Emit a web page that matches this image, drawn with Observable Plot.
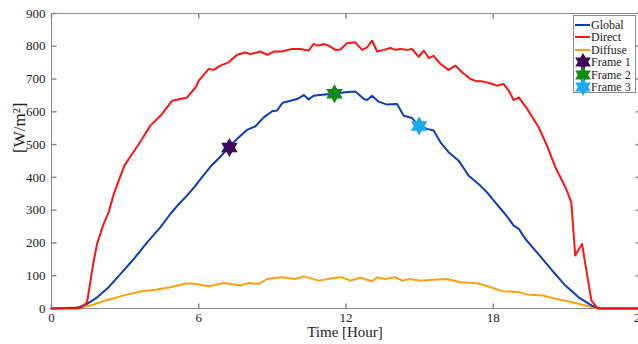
<!DOCTYPE html>
<html><head><meta charset="utf-8">
<script src="https://cdn.jsdelivr.net/npm/d3@7"></script>
<script src="https://cdn.jsdelivr.net/npm/@observablehq/plot@0.6"></script>
<style>
body{margin:0;background:#fff;}
#wrap{position:relative;width:638px;height:344px;overflow:hidden;background:#fff;}
#legend{position:absolute;left:573px;top:15px;width:63px;height:78px;border:1px solid #8a8a8a;background:#fff;box-sizing:border-box;font-family:"Liberation Serif",serif;font-size:12px;color:#222;}
#legend .row{position:absolute;left:0;height:12px;line-height:12px;white-space:nowrap;}
#legend svg{position:absolute;left:0;top:-3px;overflow:visible;}
#legend span{position:absolute;left:17px;top:0;line-height:12px;}
</style></head><body><div id="wrap"></div>
<script>
// Direct irradiance
const directT = [0,1.05,1.25,1.45,1.7,1.86,2.13,2.33,2.54,2.74,2.97,3.29,3.56,4.03,4.44,4.92,5.53,5.87,6.0,6.41,6.61,6.88,7.22,7.56,7.9,8.1,8.51,8.79,9.06,9.4,9.8,10.14,10.48,10.68,10.89,11.09,11.3,11.57,11.77,12.04,12.38,12.66,12.86,13.06,13.27,13.54,13.81,14.01,14.22,14.49,14.69,14.96,15.17,15.37,15.57,15.85,16.18,16.46,16.73,17.07,17.34,17.54,17.88,18.15,18.42,18.63,18.83,19.04,19.38,19.85,20.19,20.53,20.94,21.18,21.34,21.62,21.75,22.0,22.23,22.4,24];
const directV = [0,0,5,19,137,198,259,294,350,390,436,472,502,558,588,634,644,675,695,731,728,741,751,774,781,776,784,774,784,784,792,792,787,807,802,807,802,789,790,809,812,789,797,817,784,789,795,789,792,789,792,768,787,764,771,746,728,741,721,700,693,693,687,680,685,665,636,644,609,553,497,431,370,324,162,197,136,24,3,0,0];
// Global irradiance
const globalT = [0,1.05,1.45,1.86,2.33,2.88,3.35,3.9,4.44,4.85,5.19,5.53,5.87,6.07,6.48,6.88,7.22,7.56,7.97,8.31,8.65,8.99,9.19,9.42,9.74,10.01,10.28,10.48,10.68,11.03,11.5,11.98,12.38,12.73,12.86,13.06,13.33,13.67,14.08,14.35,14.69,14.96,15.3,15.57,15.85,16.18,16.59,17.0,17.47,17.8,18.02,18.36,18.63,18.83,19.04,19.31,19.85,20.4,20.94,21.48,22.02,22.3,24];
const globalV = [0,2,14,34,65,111,151,202,248,289,319,345,375,395,433,463,492,517,545,556,583,602,604,628,634,639,651,638,649,652,655,660,662,639,636,649,631,622,624,588,581,558,548,543,507,477,451,405,375,350,329,299,274,253,243,212,165,116,70,34,9,0,0];
// Diffuse irradiance
const diffuseT = [0,1.05,1.59,2.27,2.95,3.63,4.3,4.85,5.53,5.87,6.41,7.02,7.7,8.04,8.44,8.79,9.4,9.94,10.28,10.89,11.57,11.85,12.18,12.59,13.06,13.27,13.6,14.01,14.29,14.62,15.03,15.57,16.11,16.66,17.34,17.78,18.36,19.04,19.38,19.99,20.53,21.21,21.75,22.25,24];
const diffuseV = [0,3,9,26,40,52,58,65,77,75,68,78,70,78,75,90,95,90,98,85,94,95,85,94,83,95,90,95,85,90,85,88,90,80,77,68,53,50,43,40,30,19,9,0,0];

const seriesNames = ["Global","Direct","Diffuse"];
const seriesColors = ["#0d3db8","#ff1414","#ffa010"];
const frameNames = ["Frame 1","Frame 2","Frame 3"];
const frameT = [7.25,11.53,14.98];
const frameV = [491,655,557];
const frameColors = ["#3d0a5c","#138a13","#1aaaf0"];
const xTicks = [0,6,12,18,24];
const yTicks = [0,100,200,300,400,500,600,700,800,900];
const xLabel = "Time [Hour]";
const yLabel = "[W/m²]";

const rows = (T,V) => T.map((t,i)=>({t, v:V[i]}));
const globalRows = rows(globalT, globalV);
const directRows = rows(directT, directV);
const diffuseRows = rows(diffuseT, diffuseV);
const frames = frameT.map((t,i)=>({t, v:frameV[i], name:frameNames[i], color:frameColors[i]}));

function hexagram(R){
  return {draw(ctx){
    const ri = R/Math.sqrt(3);
    for(let k=0;k<12;k++){
      const a = -Math.PI/2 + k*Math.PI/6;
      const rr = k%2 ? ri : R;
      const x = rr*Math.cos(a), y = rr*Math.sin(a);
      if(k) ctx.lineTo(x,y); else ctx.moveTo(x,y);
    }
    ctx.closePath();
  }};
}
const tickSym = (dx,dy) => ({draw(ctx){ctx.moveTo(0,0); ctx.lineTo(dx,dy);}});
const gray = "#8a8a8a";

const chart = Plot.plot({
  width:638, height:344,
  marginLeft:51, marginTop:13, marginBottom:36, marginRight:0,
  style:{fontFamily:"Liberation Serif, serif", fontSize:"13px", background:"white", color:"#222"},
  x:{domain:[0,24], range:[51,640]},
  y:{domain:[0,900], range:[308,13]},
  marks:[
    Plot.axisX(xTicks,{tickSize:0, tickPadding:4, label:null, fontSize:13}),
    Plot.axisY(yTicks,{tickSize:0, tickPadding:6, label:null, fontSize:13}),
    Plot.ruleY([0,900],{stroke:gray}),
    Plot.ruleX([0,24],{stroke:gray}),
    Plot.dot(xTicks,{x:d=>d, y:0, symbol:tickSym(0,-5), stroke:gray, fill:"none"}),
    Plot.dot(xTicks,{x:d=>d, y:900, symbol:tickSym(0,5), stroke:gray, fill:"none"}),
    Plot.dot(yTicks,{x:0, y:d=>d, symbol:tickSym(5,0), stroke:gray, fill:"none"}),
    Plot.dot(yTicks,{x:24, y:d=>d, symbol:tickSym(-5,0), stroke:gray, fill:"none"}),
    Plot.line(diffuseRows,{x:"t", y:"v", stroke:seriesColors[2], strokeWidth:2}),
    Plot.line(globalRows,{x:"t", y:"v", stroke:seriesColors[0], strokeWidth:2}),
    Plot.line(directRows,{x:"t", y:"v", stroke:seriesColors[1], strokeWidth:2}),
    Plot.dot(frames,{x:"t", y:"v", fill:"color", symbol:hexagram(9.5), stroke:"none"}),
    Plot.text([xLabel],{frameAnchor:"bottom", dy:28, text:d=>d, fontSize:15}),
    Plot.text([yLabel],{frameAnchor:"left", dx:-32, dy:-8, rotate:-90, text:d=>d, fontSize:17})
  ]
});
const wrap = document.getElementById("wrap");
wrap.appendChild(chart);

// legend
const leg = document.createElement("div");
leg.id = "legend";
const items = seriesNames.map((n,i)=>({name:n, color:seriesColors[i], kind:"line"}))
  .concat(frameNames.map((n,i)=>({name:n, color:frameColors[i], kind:"star"})));
items.forEach((it,i)=>{
  const row = document.createElement("div");
  row.className = "row";
  row.style.top = (3 + i*12.4) + "px";
  let sw;
  if(it.kind==="line"){
    sw = `<svg width="16" height="16"><line x1="1" x2="16" y1="9" y2="9" stroke="${it.color}" stroke-width="2"/></svg>`;
  } else {
    const R = 9, ri = R/Math.sqrt(3);
    const pts = d3.range(12).map(k=>{const a=-Math.PI/2+k*Math.PI/6; const rr=k%2?ri:R; return [9+rr*Math.cos(a), 9+rr*Math.sin(a)].join(",");}).join(" ");
    sw = `<svg width="18" height="18"><polygon points="${pts}" fill="${it.color}"/></svg>`;
  }
  row.innerHTML = sw + `<span>${it.name}</span>`;
  leg.appendChild(row);
});
wrap.appendChild(leg);
</script></body></html>
